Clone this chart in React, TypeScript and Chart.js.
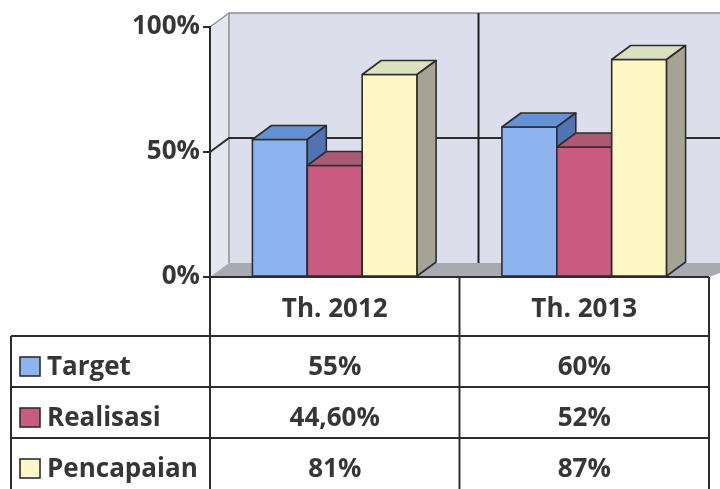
import React, { useEffect, useRef } from "react";
import { Chart, registerables } from "chart.js";

Chart.register(...registerables);

// ---- data ----
const categories = ["Th. 2012", "Th. 2013"];
const seriesNames = ["Target", "Realisasi", "Pencapaian"];
const target = [55, 60];
const realisasi = [44.6, 52];
const pencapaian = [81, 87];
const yTicks = [0, 50, 100];

// ---- style ----
const FONT = '"Open Sans", "DejaVu Sans", sans-serif';
const DX = 19;
const DY = -14;
const LINE = "#2d2d2d";
const TEXT = "#363636";
const W = 720;
const H = 489;

const palette = [
  { front: "#8db4ef", top: "#6592d6", side: "#4f73b4" },
  { front: "#c95a80", top: "#ab5a76", side: "#86405b" },
  { front: "#fff7c6", top: "#dcdfc0", side: "#a5a396" },
];

const fmt = (v: number) =>
  Number.isInteger(v) ? `${v}%` : `${v.toFixed(2).replace(".", ",")}%`;

function poly(ctx: CanvasRenderingContext2D, pts: number[][], fill?: string, stroke?: string, lw = 1.6) {
  ctx.beginPath();
  ctx.moveTo(pts[0][0], pts[0][1]);
  for (let i = 1; i < pts.length; i++) ctx.lineTo(pts[i][0], pts[i][1]);
  ctx.closePath();
  if (fill) {
    ctx.fillStyle = fill;
    ctx.fill();
  }
  if (stroke) {
    ctx.strokeStyle = stroke;
    ctx.lineWidth = lw;
    ctx.lineJoin = "round";
    ctx.stroke();
  }
}

function line(ctx: CanvasRenderingContext2D, pts: number[][], color: string, lw: number) {
  ctx.beginPath();
  ctx.moveTo(pts[0][0], pts[0][1]);
  for (let i = 1; i < pts.length; i++) ctx.lineTo(pts[i][0], pts[i][1]);
  ctx.strokeStyle = color;
  ctx.lineWidth = lw;
  ctx.stroke();
}

const threeD = {
  id: "threeD",
  beforeDraw(chart: any) {
    const { ctx, chartArea: a, scales } = chart;
    const y = scales.y;
    const x = scales.x;
    ctx.save();
    ctx.fillStyle = "#ffffff";
    ctx.fillRect(0, 0, W, H);
    // back wall
    ctx.fillStyle = "#dcdfeb";
    ctx.fillRect(a.left + DX, a.top + DY, a.right - a.left + 20, a.bottom - a.top);
    // side wall
    poly(ctx, [[a.left, a.top], [a.left + DX, a.top + DY], [a.left + DX, a.bottom + DY], [a.left, a.bottom]], "#e5e7f0");
    // floor
    poly(ctx, [[a.left, a.bottom], [a.left + DX, a.bottom + DY], [a.right + DX + 20, a.bottom + DY], [a.right, a.bottom]], "#a9a9b1");
    // wall edges
    line(ctx, [[a.left + DX, a.bottom + DY], [a.left + DX, a.top + DY], [W, a.top + DY]], "#8e8e96", 1.5);
    line(ctx, [[a.left, y.getPixelForValue(100)], [a.left + DX, y.getPixelForValue(100) + DY]], "#8e8e96", 1.5);
    // grid lines
    for (const t of yTicks) {
      if (t <= 0 || t >= 100) continue;
      const py = y.getPixelForValue(t);
      line(ctx, [[a.left, py], [a.left + DX, py + DY], [W, py + DY]], LINE, 2);
    }
    // category divider on back wall
    for (let i = 1; i < categories.length; i++) {
      const b = (x.getPixelForValue(i - 1) + x.getPixelForValue(i)) / 2;
      line(ctx, [[b + DX, a.top + DY], [b + DX, a.bottom + DY]], "#1e1e1e", 2);
    }
    ctx.restore();
  },
  afterDatasetsDraw(chart: any) {
    const { ctx } = chart;
    ctx.save();
    for (let c = 0; c < categories.length; c++) {
      for (let d = 0; d < chart.data.datasets.length; d++) {
        const el = chart.getDatasetMeta(d).data[c];
        const { x, y, base, width } = el.getProps(["x", "y", "base", "width"], true);
        const L = x - width / 2;
        const R = x + width / 2;
        const p = palette[d];
        poly(ctx, [[L, y], [R, y], [R, base], [L, base]], p.front, LINE);
        poly(ctx, [[L, y], [L + DX, y + DY], [R + DX, y + DY], [R, y]], p.top, LINE);
        poly(ctx, [[R, y], [R + DX, y + DY], [R + DX, base + DY], [R, base]], p.side, LINE);
      }
    }
    ctx.restore();
  },
  afterDraw(chart: any) {
    const { ctx, chartArea: a, scales } = chart;
    const x = scales.x;
    ctx.save();
    const bounds = [a.left];
    for (let i = 1; i < categories.length; i++) {
      bounds.push((x.getPixelForValue(i - 1) + x.getPixelForValue(i)) / 2);
    }
    bounds.push(a.right);
    const headerH = 59;
    const rowH = 51;
    const tableLeft = 11;
    const rowTops = seriesNames.map((_, i) => a.bottom + headerH + i * rowH);

    // lines
    line(ctx, [[a.left, a.top], [a.left, H]], LINE, 2);
    line(ctx, [[a.left, a.bottom], [a.right, a.bottom]], LINE, 2);
    for (let i = 1; i < bounds.length; i++) line(ctx, [[bounds[i], a.bottom], [bounds[i], H]], LINE, 2);
    for (const rt of rowTops) line(ctx, [[tableLeft, rt], [a.right, rt]], LINE, 2);
    line(ctx, [[tableLeft, rowTops[0]], [tableLeft, H]], LINE, 2);

    ctx.font = `bold 26px ${FONT}`;
    ctx.fillStyle = TEXT;
    ctx.textBaseline = "alphabetic";
    // header
    ctx.textAlign = "center";
    categories.forEach((cat, i) => {
      ctx.fillText(cat, (bounds[i] + bounds[i + 1]) / 2, a.bottom + 40);
    });
    const series = [target, realisasi, pencapaian];
    seriesNames.forEach((name, r) => {
      const rt = rowTops[r];
      // legend key
      ctx.fillStyle = palette[r].front;
      ctx.fillRect(20, rt + 21, 20, 19);
      ctx.strokeStyle = LINE;
      ctx.lineWidth = 1.6;
      ctx.strokeRect(20, rt + 21, 20, 19);
      ctx.fillStyle = TEXT;
      ctx.textAlign = "left";
      ctx.fillText(name, 47, rt + 39);
      ctx.textAlign = "center";
      series[r].forEach((v, c) => {
        ctx.fillText(fmt(v), (bounds[c] + bounds[c + 1]) / 2, rt + 39);
      });
    });
    ctx.restore();
  },
};

export default function App() {
  const ref = useRef<HTMLCanvasElement>(null);
  useEffect(() => {
    document.body.style.margin = "0";
    const series = [target, realisasi, pencapaian];
    const chart = new Chart(ref.current as HTMLCanvasElement, {
      type: "bar",
      data: {
        labels: categories,
        datasets: seriesNames.map((name, i) => ({
          label: name,
          data: series[i],
          backgroundColor: palette[i].front,
          borderColor: LINE,
          borderWidth: 0,
          categoryPercentage: 0.66,
          barPercentage: 1,
        })),
      },
      options: {
        responsive: false,
        animation: false,
        devicePixelRatio: 1,
        layout: { padding: { left: 0, right: 11, top: 27, bottom: H - 277 } },
        plugins: { legend: { display: false }, tooltip: { enabled: false } },
        scales: {
          x: { display: false },
          y: {
            min: 0,
            max: 100,
            afterFit(s: any) {
              s.width = 210;
            },
            afterBuildTicks(s: any) {
              s.ticks = yTicks.map((v) => ({ value: v }));
            },
            ticks: {
              callback: (v: any) => `${v}%`,
              font: { family: FONT, size: 26, weight: "bold" },
              color: TEXT,
              padding: 3,
            },
            grid: { drawOnChartArea: false, drawTicks: true, tickLength: 7, color: LINE, lineWidth: 2 },
            border: { display: true, color: LINE, width: 2 },
          },
        },
      },
      plugins: [threeD],
    } as any);
    return () => chart.destroy();
  }, []);
  return (
    <div style={{ position: "absolute", left: 0, top: 0, width: W, height: H, background: "#fff" }}>
      <canvas ref={ref} width={W} height={H} style={{ display: "block" }} />
    </div>
  );
}
